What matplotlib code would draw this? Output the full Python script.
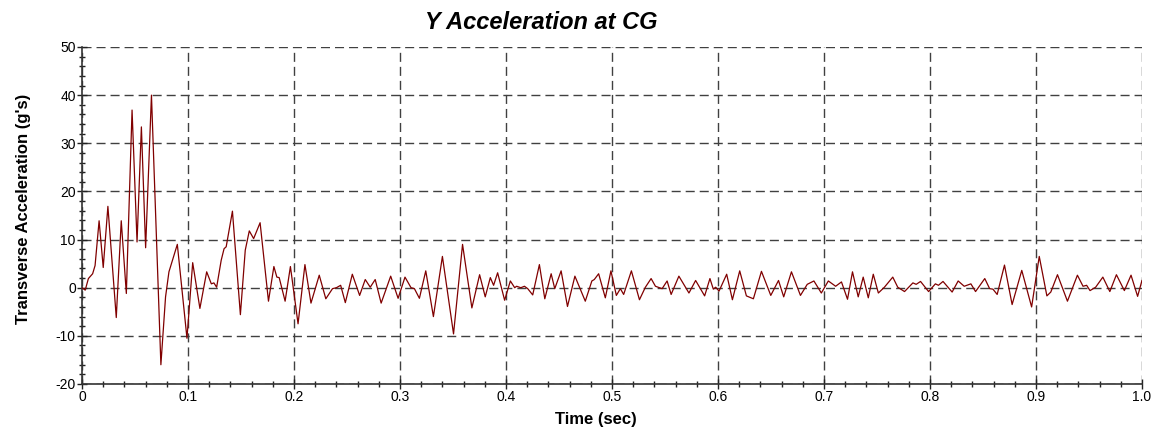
import numpy as np
import matplotlib
matplotlib.use("Agg")
import matplotlib.pyplot as plt
from matplotlib.ticker import MultipleLocator, FuncFormatter

plt.rcParams['font.family'] = ['Liberation Sans', 'DejaVu Sans']
plt.rcParams['lines.scale_dashes'] = False
plt.rcParams['axes.unicode_minus'] = False

# time (sec) / transverse acceleration (g's)
t = [0.000, 0.003, 0.006, 0.010, 0.0123, 0.0161, 0.020, 0.0244, 0.0323, 0.037,
     0.0418, 0.0472, 0.0519, 0.056, 0.060, 0.0655, 0.0744, 0.0788, 0.082, 0.0899,
     0.0990, 0.1044, 0.1112, 0.1176, 0.122, 0.1244, 0.127, 0.1313, 0.134, 0.136,
     0.1419, 0.1494, 0.154, 0.1578, 0.1619, 0.168, 0.1759, 0.181, 0.1838, 0.186,
     0.1916, 0.1966, 0.2038, 0.2103, 0.216, 0.2238, 0.230, 0.2363, 0.240, 0.244,
     0.2484, 0.255, 0.2619, 0.2672, 0.2719, 0.2766, 0.2822, 0.2912, 0.2982, 0.3047,
     0.3104, 0.3136, 0.3183, 0.3243, 0.3315, 0.340, 0.3505, 0.359, 0.3678, 0.3751,
     0.3804, 0.3852, 0.3883, 0.3921, 0.3987, 0.4041, 0.4082, 0.410, 0.414, 0.4174,
     0.4205, 0.4252, 0.4315, 0.4366, 0.4426, 0.446, 0.452, 0.458, 0.465, 0.4748,
     0.481, 0.4833, 0.4874, 0.4937, 0.499, 0.5041, 0.5079, 0.511, 0.5183, 0.5259,
     0.5315, 0.5369, 0.541, 0.5473, 0.552, 0.5558, 0.5631, 0.5726, 0.5789, 0.5874,
     0.5924, 0.5956, 0.5978, 0.601, 0.6082, 0.6136, 0.6205, 0.6268, 0.6334, 0.641,
     0.6498, 0.6571, 0.662, 0.6693, 0.6778, 0.6842, 0.6905, 0.6975, 0.7041, 0.711,
     0.7165, 0.7222, 0.7269, 0.7323, 0.737, 0.7418, 0.7465, 0.7513, 0.757, 0.7649,
     0.7696, 0.776, 0.7839, 0.787, 0.7911, 0.7987, 0.8051, 0.808, 0.8123, 0.8209,
     0.8266, 0.8323, 0.8386, 0.843, 0.8517, 0.8563, 0.8594, 0.8634, 0.8703, 0.8775,
     0.8866, 0.8959, 0.9031, 0.9103, 0.914, 0.9203, 0.9297, 0.9391, 0.9444, 0.9478,
     0.951, 0.9563, 0.9631, 0.9697, 0.9759, 0.9834, 0.9897, 0.9959, 1.000]
accel = [0.0, -0.5, 1.9, 2.9, 4.6, 13.9, 4.2, 16.9, -6.2, 13.9,
         -1.2, 36.9, 9.5, 33.4, 8.3, 40.0, -16.0, -1.9, 3.3, 9.0,
         -10.5, 5.2, -4.3, 3.3, 0.8, 1.0, 0.1, 5.7, 8.1, 8.5,
         15.9, -5.6, 7.8, 11.8, 10.2, 13.5, -2.8, 4.4, 2.2, 2.1,
         -2.8, 4.4, -7.5, 4.8, -3.2, 2.6, -2.3, -0.2, 0.0, 0.5,
         -3.1, 2.8, -1.6, 1.7, 0.1, 1.7, -3.2, 2.4, -2.2, 2.2,
         0.0, -0.2, -2.2, 3.5, -6.0, 6.5, -9.6, 9.0, -4.2, 2.7,
         -1.9, 2.1, 0.5, 3.1, -2.6, 1.4, 0.0, 0.3, 0.0, 0.3,
         -0.2, -1.5, 4.8, -2.3, 2.9, -0.2, 3.5, -3.9, 2.4, -2.8,
         1.4, 1.7, 2.9, -2.1, 3.5, -1.6, -0.2, -1.4, 3.5, -2.5,
         0.1, 1.9, 0.3, -0.2, 1.4, -1.4, 2.4, -1.1, 1.5, -1.7,
         1.9, -0.3, 0.1, -0.7, 2.8, -2.5, 3.5, -1.7, -2.3, 3.4,
         -1.6, 1.5, -1.9, 3.3, -1.6, 0.7, 1.4, -1.1, 1.4, 0.3,
         1.2, -2.4, 3.3, -1.9, 2.2, -2.1, 2.8, -1.1, 0.1, 2.2,
         0.1, -0.8, 1.0, 0.7, 1.3, -0.8, 0.8, 0.5, 1.3, -0.9,
         1.4, 0.3, 0.8, -0.8, 1.9, -0.2, -0.3, -1.4, 4.7, -3.5,
         3.6, -4.0, 6.5, -1.7, -0.9, 2.7, -2.8, 2.6, 0.3, 0.5,
         -0.6, 0.1, 2.2, -0.8, 2.7, -0.6, 2.6, -1.8, 1.5]

fig = plt.figure(figsize=(11.57, 4.30), dpi=100)
ax = fig.add_axes([0.0709, 0.107, 0.9161, 0.7837])

ax.plot(t, accel, color='#800000', lw=0.9, zorder=3)

ax.set_xlim(0, 1.0)
ax.set_ylim(-20, 50)
ax.xaxis.set_major_locator(MultipleLocator(0.1))
ax.xaxis.set_minor_locator(MultipleLocator(0.02))
ax.yaxis.set_major_locator(MultipleLocator(10))
ax.yaxis.set_minor_locator(MultipleLocator(2))
ax.xaxis.set_major_formatter(FuncFormatter(lambda v, p: '0' if abs(v) < 1e-9 else f'{v:.1f}'))

ax.grid(True, which='major', color='#404040', lw=1.0, linestyle=(0, (6.5, 3.6)), zorder=1)
ax.tick_params(which='major', direction='inout', length=7, width=1, labelsize=10, pad=1,
               colors='#222222', labelcolor='black')
ax.tick_params(which='minor', direction='inout', length=4, width=1, colors='#222222')
ax.tick_params(top=False, right=False, which='both')

for s in ['top', 'right']:
    ax.spines[s].set_visible(False)
for s in ['left', 'bottom']:
    ax.spines[s].set_linewidth(1.2)
    ax.spines[s].set_color('#333333')

fig.text(0.4676, 0.9337, 'Y Acceleration at CG', fontsize=17, fontweight='bold',
         fontstyle='italic', ha='center', va='baseline')
ax.set_xlabel('Time (sec)', fontsize=12, fontweight='bold')
ax.set_ylabel("Transverse Acceleration (g's)", fontsize=12, fontweight='bold')
ax.xaxis.set_label_coords(0.485, -0.082)
ax.yaxis.set_label_coords(-0.048, 0.521)

fig.savefig('out.png', dpi=100)
